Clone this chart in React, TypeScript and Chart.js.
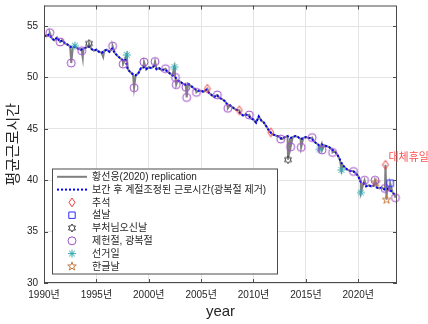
import { useEffect, useRef } from "react";
import { Chart, registerables } from "chart.js";

Chart.register(...registerables);

// Seasonally adjusted weekly hours (after interpolation, Liberation Day removed), quarterly from 1990
const FIRST_YEAR = 1990;
const adjustedHours = [
  54.1, 54.0, 54.2, 53.8,
  53.6, 53.9, 53.5, 53.6,
  53.3, 53.2, 53.0, 52.9,
  53.0, 52.8, 52.7, 52.8,
  52.9, 53.0, 52.8, 52.6,
  52.7, 52.5, 52.4, 52.6,
  52.7, 52.5, 52.8, 52.4,
  52.1, 51.9, 51.7, 51.8,
  50.8, 50.5, 50.3, 50.2,
  50.4, 50.9, 51.0, 50.8,
  51.0, 50.9, 51.1, 50.8,
  50.9, 50.7, 50.8, 50.6,
  50.4, 50.2, 50.1, 49.7,
  49.6, 49.4, 49.3, 49.4,
  49.2, 49.0, 48.8, 48.7,
  48.7, 48.6, 48.8, 48.5,
  48.3, 48.1, 48.3, 48.0,
  47.9, 47.7, 47.4, 47.3,
  47.1, 46.9, 46.8, 46.5,
  46.3, 46.4, 46.3, 46.0,
  45.9, 45.6, 46.2, 45.8,
  45.6, 45.2, 44.8, 44.5,
  44.4, 44.3, 44.2, 44.0,
  44.2, 44.3, 44.1, 44.2,
  44.3, 44.2, 44.0, 44.1,
  44.2, 44.1, 44.1, 43.8,
  43.6, 43.4, 43.5, 43.4,
  43.3, 43.2, 43.0, 42.8,
  42.5, 42.0, 41.5, 41.2,
  41.0, 40.9, 40.9, 40.7,
  40.4, 39.8, 39.7, 39.4,
  39.5, 39.4, 39.5, 39.3,
  39.2, 39.3, 39.1, 39.2,
  39.0, 38.9, 38.5,
];

// Holiday months in the replicated series: [year, hours]
const chuseok: [number, number][] = [
  [2005.6, 48.9], [2008.65, 46.8], [2011.65, 44.65], [2022.6, 41.5],
];
const seollal: [number, number][] = [[2023.05, 39.7]];
const buddhasBirthday: [number, number][] = [[1994.3, 53.3], [2013.3, 42.0]];
const constitutionLiberation: [number, number][] = [
  [1990.55, 54.35], [1991.55, 53.45], [1992.6, 51.4], [1993.6, 52.6],
  [1996.55, 53.05], [1997.55, 51.3], [1998.6, 49.0], [1999.55, 51.5],
  [2000.6, 51.55], [2001.6, 50.85], [2002.55, 50.0], [2002.62, 49.3],
  [2003.55, 49.05], [2003.62, 48.05], [2004.55, 48.55], [2006.55, 48.3],
  [2007.55, 47.0], [2009.6, 46.35], [2012.6, 44.0], [2013.55, 43.25],
  [2014.55, 43.2], [2015.6, 44.15], [2016.55, 42.95], [2017.55, 42.7],
  [2019.55, 40.85], [2020.6, 40.0], [2021.6, 40.0], [2022.55, 39.2],
  [2023.55, 38.3],
];
const electionDay: [number, number][] = [
  [1992.95, 53.1], [1997.9, 52.2], [2002.45, 51.0], [2016.3, 43.0],
  [2018.4, 41.0], [2020.25, 38.8],
];
const hangulDay: [number, number][] = [[2021.7, 39.75], [2022.7, 38.1]];
// Other short dips of the replicated series
const otherDips: [number, number][] = [[1993.7, 51.9], [1995.65, 52.0]];

const substituteHolidayLabel = "대체휴일";
const substituteHolidayPoint = chuseok[chuseok.length - 1];

const xTickYears = [1990, 1995, 2000, 2005, 2010, 2015, 2020];
const yTickValues = [30, 35, 40, 45, 50, 55];

type Kind = "diamond" | "square" | "hexagram" | "circle" | "asterisk" | "pentagram";

const markerSeries: { label: string; kind: Kind; color: string; r: number; data: [number, number][] }[] = [
  { label: "추석", kind: "diamond", color: "#f03c3c", r: 4, data: chuseok },
  { label: "설날", kind: "square", color: "#2a2aff", r: 4, data: seollal },
  { label: "부처님오신날", kind: "hexagram", color: "#3c3c3c", r: 4, data: buddhasBirthday },
  { label: "제헌절, 광복절", kind: "circle", color: "#a050c8", r: 4, data: constitutionLiberation },
  { label: "선거일", kind: "asterisk", color: "#30a8b0", r: 4, data: electionDay },
  { label: "한글날", kind: "pentagram", color: "#c8783c", r: 4.5, data: hangulDay },
];

const RAW_LABEL = "황선웅(2020) replication";
const ADJ_LABEL = "보간 후 계절조정된 근로시간(광복절 제거)";
const RAW_COLOR = "#808080";
const ADJ_COLOR = "#0000ff";
const TEXT_COLOR = "#262626";
const FONT_FAMILY = "'Liberation Sans', 'Noto Sans CJK KR', sans-serif";

function strokeMarker(ctx: CanvasRenderingContext2D, kind: Kind, x: number, y: number, r: number, color: string) {
  ctx.save();
  ctx.strokeStyle = color;
  ctx.lineWidth = 1;
  ctx.beginPath();
  if (kind === "circle") {
    ctx.arc(x, y, r, 0, Math.PI * 2);
  } else if (kind === "square") {
    ctx.rect(x - r * 0.8, y - r * 0.8, r * 1.6, r * 1.6);
  } else if (kind === "diamond") {
    ctx.moveTo(x, y - r * 1.1);
    ctx.lineTo(x + r * 0.75, y);
    ctx.lineTo(x, y + r * 1.1);
    ctx.lineTo(x - r * 0.75, y);
    ctx.closePath();
  } else if (kind === "asterisk") {
    for (let i = 0; i < 4; i++) {
      const a = (i * Math.PI) / 4;
      ctx.moveTo(x + r * Math.cos(a), y + r * Math.sin(a));
      ctx.lineTo(x - r * Math.cos(a), y - r * Math.sin(a));
    }
  } else {
    const n = kind === "hexagram" ? 6 : 5;
    const inner = kind === "hexagram" ? r * 0.58 : r * 0.4;
    for (let i = 0; i < 2 * n; i++) {
      const a = -Math.PI / 2 + (i * Math.PI) / n;
      const rr = i % 2 === 0 ? r : inner;
      const px = x + rr * Math.cos(a);
      const py = y + rr * Math.sin(a);
      if (i === 0) ctx.moveTo(px, py);
      else ctx.lineTo(px, py);
    }
    ctx.closePath();
  }
  ctx.stroke();
  ctx.restore();
}

function markerImage(kind: Kind, r: number, color: string) {
  const c = document.createElement("canvas");
  const s = Math.ceil(r * 2 + 4);
  c.width = s;
  c.height = s;
  strokeMarker(c.getContext("2d")!, kind, s / 2, s / 2, r, color);
  return c;
}

// Axes box with inward ticks on all four sides
const framePlugin = {
  id: "frame",
  afterDatasetsDraw(chart: any) {
    const { ctx, chartArea: a, scales } = chart;
    ctx.save();
    ctx.strokeStyle = "#4a4a4a";
    ctx.lineWidth = 1;
    ctx.strokeRect(a.left + 0.5, a.top + 0.5, a.right - a.left - 1, a.bottom - a.top - 1);
    ctx.beginPath();
    const t = 4;
    xTickYears.forEach((v) => {
      const px = Math.round(scales.x.getPixelForValue(v)) + 0.5;
      ctx.moveTo(px, a.bottom);
      ctx.lineTo(px, a.bottom - t);
      ctx.moveTo(px, a.top);
      ctx.lineTo(px, a.top + t);
    });
    yTickValues.forEach((v) => {
      const py = Math.round(scales.y.getPixelForValue(v)) + 0.5;
      ctx.moveTo(a.left, py);
      ctx.lineTo(a.left + t, py);
      ctx.moveTo(a.right, py);
      ctx.lineTo(a.right - t, py);
    });
    ctx.stroke();
    ctx.restore();
  },
};

// Legend box inside the plot area and the substitute-holiday note
const legendPlugin = {
  id: "insideLegend",
  afterDraw(chart: any) {
    const { ctx, chartArea: a, scales } = chart;
    const left = a.left + 8;
    const top = a.top + 163;
    const w = 225;
    const h = 105;
    ctx.save();
    ctx.fillStyle = "#ffffff";
    ctx.fillRect(left, top, w, h);
    ctx.strokeStyle = "#4a4a4a";
    ctx.lineWidth = 1;
    ctx.strokeRect(left + 0.5, top + 0.5, w, h);

    const rowH = 12.8;
    const firstRow = top + 8.3;
    const lx0 = left + 5;
    const lx1 = left + 35;
    const mx = left + 20;
    const tx = left + 40;
    ctx.font = `10px ${FONT_FAMILY}`;
    ctx.textBaseline = "middle";
    ctx.textAlign = "left";

    const labels = [RAW_LABEL, ADJ_LABEL, ...markerSeries.map((m) => m.label)];
    labels.forEach((label, i) => {
      const y = firstRow + i * rowH;
      if (i === 0) {
        ctx.strokeStyle = RAW_COLOR;
        ctx.lineWidth = 2;
        ctx.setLineDash([]);
        ctx.beginPath();
        ctx.moveTo(lx0, y);
        ctx.lineTo(lx1, y);
        ctx.stroke();
      } else if (i === 1) {
        ctx.strokeStyle = ADJ_COLOR;
        ctx.lineWidth = 2;
        ctx.setLineDash([2, 2]);
        ctx.beginPath();
        ctx.moveTo(lx0, y);
        ctx.lineTo(lx1, y);
        ctx.stroke();
        ctx.setLineDash([]);
      } else {
        const m = markerSeries[i - 2];
        strokeMarker(ctx, m.kind, mx, y, m.r, m.color);
      }
      ctx.fillStyle = TEXT_COLOR;
      ctx.fillText(label, tx, y + 0.5);
    });

    const px = scales.x.getPixelForValue(substituteHolidayPoint[0]);
    const py = scales.y.getPixelForValue(substituteHolidayPoint[1]);
    ctx.font = `11px 'Noto Sans CJK KR', sans-serif`;
    ctx.fillStyle = "#ff5050";
    ctx.fillText(substituteHolidayLabel, px + 3, py - 8);
    ctx.restore();
  },
};

export default function App() {
  const canvasRef = useRef<HTMLCanvasElement | null>(null);

  useEffect(() => {
    if (!canvasRef.current) return;

    const adjustedPoints = adjustedHours.map((v, i) => ({ x: FIRST_YEAR + i / 4, y: v }));
    const holidayPoints = markerSeries.flatMap((m) => m.data.map(([x, y]) => ({ x, y })));
    const rawPoints = [
      ...adjustedPoints,
      ...holidayPoints,
      ...otherDips.map(([x, y]) => ({ x, y })),
    ].sort((p, q) => p.x - q.x);

    const markerDatasets = markerSeries.map((m) => ({
      label: m.label,
      data: m.data.map(([x, y]) => ({ x, y })),
      showLine: false,
      pointStyle: markerImage(m.kind, m.r, m.color),
      pointRadius: m.r,
      order: 0,
      clip: 8,
    }));

    const tickFont = { family: FONT_FAMILY, size: 10 };
    const titleFont = { family: FONT_FAMILY, size: 15 };

    const chart = new Chart(canvasRef.current, {
      type: "scatter",
      data: {
        datasets: [
          ...markerDatasets,
          {
            label: ADJ_LABEL,
            data: adjustedPoints,
            showLine: true,
            borderColor: ADJ_COLOR,
            borderWidth: 2,
            borderDash: [2, 2],
            pointRadius: 0,
            order: 1,
          },
          {
            label: RAW_LABEL,
            data: rawPoints,
            showLine: true,
            borderColor: RAW_COLOR,
            borderWidth: 2,
            pointRadius: 0,
            order: 2,
          },
        ] as any,
      },
      options: {
        animation: false,
        responsive: false,
        devicePixelRatio: 1,
        layout: { padding: { left: 0, top: 5, right: 31, bottom: 0 } },
        plugins: { legend: { display: false }, tooltip: { enabled: false } },
        scales: {
          x: {
            type: "linear",
            min: 1990,
            max: 2023.7,
            afterFit: (s: any) => {
              s.height = 41;
              s.paddingLeft = 0;
              s.paddingRight = 0;
            },
            afterBuildTicks: (s: any) => {
              s.ticks = xTickYears.map((v) => ({ value: v }));
            },
            grid: { color: "#e4e4e4", drawTicks: false },
            border: { display: false },
            ticks: {
              padding: 6,
              color: TEXT_COLOR,
              font: tickFont,
              maxRotation: 0,
              callback: (v: any) => `${v}년`,
            },
            title: {
              display: true,
              text: "year",
              color: TEXT_COLOR,
              font: titleFont,
              padding: { top: 0, bottom: 3 },
            },
          },
          y: {
            type: "linear",
            min: 30,
            max: 57,
            afterFit: (s: any) => {
              s.width = 44;
              s.paddingTop = 0;
              s.paddingBottom = 0;
            },
            afterBuildTicks: (s: any) => {
              s.ticks = yTickValues.map((v) => ({ value: v }));
            },
            grid: { color: "#e4e4e4", drawTicks: false },
            border: { display: false },
            ticks: {
              padding: 6,
              color: TEXT_COLOR,
              font: tickFont,
              callback: (v: any) => `${v}`,
            },
            title: {
              display: true,
              text: "평균근로시간",
              color: TEXT_COLOR,
              font: titleFont,
              padding: { top: 5, bottom: 0 },
            },
          },
        },
      },
      plugins: [framePlugin, legendPlugin],
    });

    return () => chart.destroy();
  }, []);

  return (
    <div style={{ position: "absolute", left: 0, top: 0, width: 428, height: 324, background: "#fff" }}>
      <canvas ref={canvasRef} width={428} height={324} style={{ display: "block" }} />
    </div>
  );
}
